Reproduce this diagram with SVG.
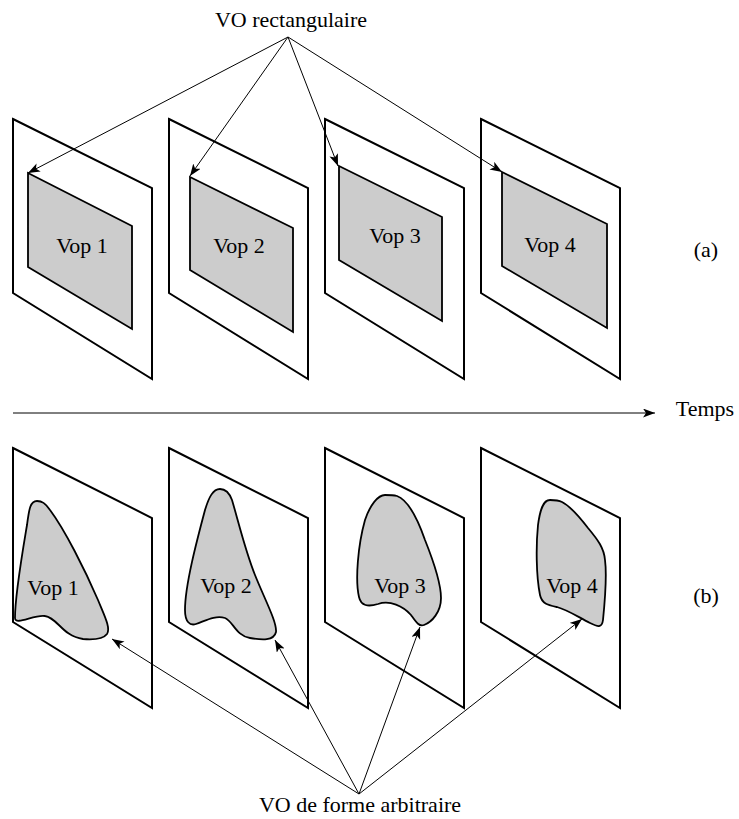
<svg xmlns="http://www.w3.org/2000/svg" width="739" height="819" viewBox="0 0 739 819">
<style>
.frame{fill:#fff;stroke:#000;stroke-width:2;stroke-linejoin:miter}
.vop{fill:#cccccc;stroke:#000;stroke-width:1.8}
.lbl{font-family:"Liberation Serif","Times New Roman",serif;font-size:22px;fill:#000;text-anchor:middle}
.conn{fill:none;stroke:#000;stroke-width:1}
</style>
<defs>
<marker id="ah" markerUnits="userSpaceOnUse" markerWidth="13" markerHeight="10" refX="12" refY="4.5" orient="auto">
<path d="M0,0 L12,4.5 L0,9 L3,4.5 Z" fill="#000"/>
</marker>
</defs>
<rect width="739" height="819" fill="#fff"/>
<g id="top-frame-1">
<polygon class="frame" points="13,119 152,188 152,379 13,293"/>
<polygon class="vop" points="28,173 132,226 132,329 28,267"/>
<text class="lbl" x="82" y="253">Vop 1</text>
</g>
<g id="top-frame-2">
<polygon class="frame" points="169,119 308,188 308,379 169,293"/>
<polygon class="vop" points="190,177 293,228 293,332 190,270"/>
<text class="lbl" x="239" y="253">Vop 2</text>
</g>
<g id="top-frame-3">
<polygon class="frame" points="325,119 464,188 464,379 325,293"/>
<polygon class="vop" points="339,166 442,217 442,321 339,260"/>
<text class="lbl" x="395" y="243">Vop 3</text>
</g>
<g id="top-frame-4">
<polygon class="frame" points="481,119 620,188 620,379 481,293"/>
<polygon class="vop" points="502,172 607,224 607,328 502,266"/>
<text class="lbl" x="550" y="252">Vop 4</text>
</g>
<g id="bottom-frame-1">
<polygon class="frame" points="13,448 152,518 152,708 13,622"/>
<path class="vop" d="M37,501 C30,501 29,510 27,525 C22,555 15,595 15,618 C15,626 35,614 45,616 C58,618 62,636 83,639 C95,640 104,638 107,634 C111,628 104,615 98,600 C85,570 65,530 50,510 C45,503 42,501 37,501 Z"/>
<text class="lbl" x="53" y="595">Vop 1</text>
</g>
<g id="bottom-frame-2">
<polygon class="frame" points="169,448 308,518 308,708 169,622"/>
<path class="vop" d="M220,489 C213,489 209,497 205,510 C197,540 185,585 185,610 C185,622 190,626 196,624 C205,621 215,615 225,618 C233,621 236,636 250,638 C262,640 274,641 276,632 C277,622 265,600 255,575 C245,550 238,520 232,500 C229,492 225,489 220,489 Z"/>
<text class="lbl" x="226" y="593">Vop 2</text>
</g>
<g id="bottom-frame-3">
<polygon class="frame" points="325,448 464,518 464,708 325,622"/>
<path class="vop" d="M385,495 C378,495 370,505 365,520 C358,545 355,580 359,597 C361,606 368,607 378,604 C390,600 403,606 411,615 C416,622 419,627 424,625 C432,622 441,612 441,598 C441,585 433,560 425,540 C418,520 408,500 397,496 C393,495 389,495 385,495 Z"/>
<text class="lbl" x="400" y="593">Vop 3</text>
</g>
<g id="bottom-frame-4">
<polygon class="frame" points="481,448 620,518 620,708 481,622"/>
<path class="vop" d="M550,500 C543,500 540,510 538,525 C536,545 536,575 540,595 C542,604 548,605 557,607 C568,610 578,617 590,623 C598,627 602,628 603,620 C605,600 607,575 605,560 C604,548 598,540 588,528 C578,515 568,505 562,502 C558,500 554,500 550,500 Z"/>
<text class="lbl" x="572" y="593">Vop 4</text>
</g>
<g id="labels">
<text class="lbl" x="291" y="27">VO rectangulaire</text>
<text class="lbl" x="360" y="812">VO de forme arbitraire</text>
<text class="lbl" x="706" y="257">(a)</text>
<text class="lbl" x="706" y="603">(b)</text>
<text class="lbl" x="705" y="416">Temps</text>
</g>
<g id="connectors">
<line class="conn" x1="288" y1="37" x2="28" y2="173" marker-end="url(#ah)"/>
<line class="conn" x1="288" y1="37" x2="190" y2="176" marker-end="url(#ah)"/>
<line class="conn" x1="288" y1="37" x2="338" y2="166" marker-end="url(#ah)"/>
<line class="conn" x1="288" y1="37" x2="502" y2="172" marker-end="url(#ah)"/>
<line class="conn" x1="359" y1="794" x2="112" y2="639" marker-end="url(#ah)"/>
<line class="conn" x1="359" y1="794" x2="275" y2="640" marker-end="url(#ah)"/>
<line class="conn" x1="359" y1="794" x2="420" y2="627" marker-end="url(#ah)"/>
<line class="conn" x1="359" y1="794" x2="582" y2="619" marker-end="url(#ah)"/>
<line class="conn" x1="13" y1="413" x2="655" y2="413" stroke-width="1.5" marker-end="url(#ah)"/>
</g>
</svg>
